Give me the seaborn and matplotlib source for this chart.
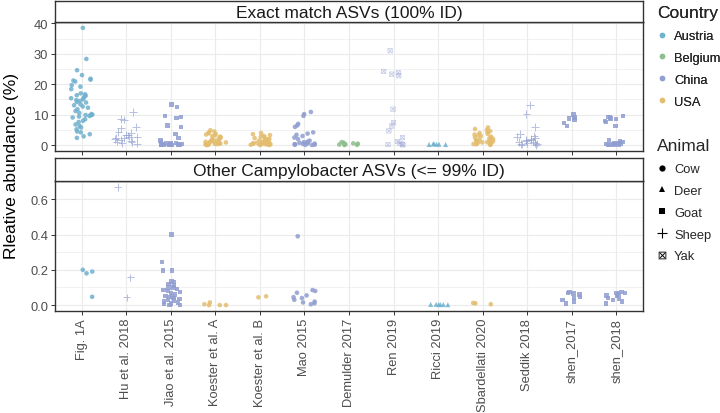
import numpy as np
import pandas as pd
import matplotlib
matplotlib.use("Agg")
import matplotlib.pyplot as plt
import seaborn as sns
from matplotlib.lines import Line2D
from matplotlib.ticker import MultipleLocator, FormatStrFormatter

# ---------------- data ----------------
studies = ["Fig. 1A", "Hu et al. 2018", "Jiao et al. 2015", "Koester et al. A",
           "Koester et al. B", "Mao 2015", "Demulder 2017", "Ren 2019", "Ricci 2019",
           "Sbardellati 2020", "Seddik 2018", "shen_2017", "shen_2018"]
study_country = ["Austria", "China", "China", "USA", "USA", "China", "Belgium",
                 "China", "Austria", "USA", "China", "China", "China"]
study_animal = ["Cow", "Sheep", "Goat", "Cow", "Cow", "Cow", "Cow", "Yak", "Deer",
                "Cow", "Sheep", "Goat", "Goat"]
countries = ["Austria", "Belgium", "China", "USA"]
animals = ["Cow", "Deer", "Goat", "Sheep", "Yak"]
panels = ["Exact match ASVs (100% ID)", "Other Campylobacter ASVs (<= 99% ID)"]

# panel 1: exact match ASVs (relative abundance, %)
fig1a_exact = [38.5, 28.3, 24.6, 23.0, 21.8, 21.5, 21.2, 20.9, 19.7, 19.2, 18.4, 17.0,
               16.7, 16.4, 16.2, 15.6, 15.4, 15.1, 14.8, 14.5, 14.2, 14.0, 13.4, 13.1,
               12.7, 12.3, 11.8, 11.2, 10.6, 10.2, 10.0, 9.9, 9.8, 9.6, 9.4, 9.1, 8.5,
               8.0, 7.6, 6.8, 6.3, 5.8, 5.2, 4.5, 4.2, 3.6, 2.9, 2.4]
hu_exact = [10.8, 8.6, 8.4, 6.0, 5.5, 4.3, 3.9, 3.2, 2.8, 2.5, 2.2, 2.0, 1.8, 1.5,
            1.2, 0.8, 0.5, 2.6, 3.5, 1.0]
jiao_exact = [13.3, 12.6, 9.6, 9.3, 9.0, 6.4, 5.9, 3.7, 2.4, 1.5, 1.0, 0.8, 0.6, 0.5,
              0.4, 0.35, 0.3, 0.25, 0.2, 0.18, 0.15, 0.12, 0.1, 0.08, 0.06, 0.05,
              0.04, 0.03, 0.02, 0.01]
koesterA_exact = [4.9, 4.5, 4.2, 3.9, 3.7, 3.5, 3.2, 3.0, 2.8, 2.6, 2.4, 2.2, 2.0,
                  1.9, 1.7, 1.5, 1.4, 1.2, 1.1, 1.0, 0.9, 0.8, 0.7, 0.6, 0.5, 0.4,
                  0.35, 0.3, 0.25, 0.2, 0.15, 0.1, 0.05]
koesterB_exact = [4.0, 3.6, 3.3, 3.0, 2.8, 2.6, 2.3, 2.1, 1.9, 1.8, 1.6, 1.4, 1.3,
                  1.1, 1.0, 0.9, 0.8, 0.7, 0.6, 0.5, 0.4, 0.35, 0.3, 0.25, 0.2,
                  0.15, 0.1, 0.05]
mao_exact = [10.9, 10.2, 9.6, 7.0, 6.5, 6.0, 4.2, 3.8, 3.4, 3.0, 2.5, 2.0, 1.5, 1.2,
             1.0, 0.8, 0.6, 0.5, 0.4, 0.3, 0.25, 0.2, 0.15, 0.1, 0.05]
demulder_exact = [1.0, 0.8, 0.6, 0.5, 0.3, 0.2, 0.1, 0.05]
ren_exact = [31.0, 24.2, 23.8, 23.3, 22.8, 11.8, 7.4, 6.3, 4.7, 2.5, 1.2, 0.6, 0.3,
             0.2, 0.1]
ricci_exact = [0.5, 0.4, 0.3, 0.3, 0.2, 0.2]
sbardellati_exact = [5.8, 5.3, 5.0, 4.6, 4.3, 4.0, 3.7, 3.5, 3.2, 3.0, 2.8, 2.6, 2.4,
                     2.2, 2.0, 1.8, 1.6, 1.5, 1.3, 1.2, 1.0, 0.9, 0.8, 0.6, 0.5, 0.4,
                     0.3, 0.2, 0.1]
seddik_exact = [13.1, 10.2, 6.0, 3.6, 3.0, 2.6, 2.3, 2.0, 1.8, 1.6, 1.4, 1.2, 1.0,
                0.8, 0.6, 0.5, 0.3, 0.2, 0.1]
shen17_exact = [10.1, 9.1, 8.7, 8.4, 7.2, 6.3]
shen18_exact = [9.6, 9.3, 9.1, 8.8, 8.5, 8.0, 7.6, 6.3, 1.6, 1.2, 1.0, 0.8, 0.6, 0.5,
                0.4, 0.3, 0.2, 0.15, 0.1, 0.05]

# panel 2: other Campylobacter ASVs (relative abundance, %)
fig1a_other = [0.047, 0.20, 0.19, 0.18]
hu_other = [0.67, 0.157, 0.044]
jiao_other = [0.40, 0.245, 0.195, 0.195, 0.135, 0.13, 0.12, 0.11, 0.10, 0.10, 0.09,
              0.085, 0.08, 0.07, 0.06, 0.05, 0.05, 0.04, 0.035, 0.03, 0.025, 0.02,
              0.01, 0.005, 0.0, 0.0, 0.015, 0.045, 0.075]
koesterA_other = [0.0, 0.0, 0.0, 0.005, 0.015]
koesterB_other = [0.044, 0.05]
mao_other = [0.39, 0.085, 0.08, 0.07, 0.055, 0.045, 0.04, 0.03, 0.02, 0.015, 0.01,
             0.005]
demulder_other = []
ren_other = []
ricci_other = [0.003, 0.004, 0.003, 0.004, 0.003, 0.002]
sbardellati_other = [0.005, 0.01, 0.012]
seddik_other = []
shen17_other = [0.075, 0.07, 0.065, 0.06, 0.045, 0.04, 0.03, 0.02, 0.01]
shen18_other = [0.075, 0.07, 0.068, 0.06, 0.055, 0.05, 0.04, 0.035, 0.03, 0.02, 0.01]

exact_values = [fig1a_exact, hu_exact, jiao_exact, koesterA_exact, koesterB_exact,
                mao_exact, demulder_exact, ren_exact, ricci_exact, sbardellati_exact,
                seddik_exact, shen17_exact, shen18_exact]
other_values = [fig1a_other, hu_other, jiao_other, koesterA_other, koesterB_other,
                mao_other, demulder_other, ren_other, ricci_other, sbardellati_other,
                seddik_other, shen17_other, shen18_other]

rows = []
for panel, vals_list in zip(panels, [exact_values, other_values]):
    for s, c, a, vals in zip(studies, study_country, study_animal, vals_list):
        for v in vals:
            rows.append({"Panel": panel, "Study": s, "Country": c, "Animal": a, "Value": v})
df = pd.DataFrame(rows)

# ---------------- style ----------------
palette = {"Austria": "#6FB0CE", "Belgium": "#8CBD8B", "China": "#8F9DD0", "USA": "#E3BD6D"}
markers = {"Cow": "o", "Deer": "^", "Goat": "s", "Sheep": "+", "Yak": r"$\boxtimes$"}
msize = {"Cow": 3.3, "Deer": 3.6, "Goat": 3.2, "Sheep": 5.5, "Yak": 3.6}

sns.set_style("white")
plt.rcParams["font.family"] = ["Liberation Sans", "DejaVu Sans"]

W, H = 720, 414
fig = plt.figure(figsize=(W / 100, H / 100), dpi=100)

def fx(px):
    return px / W

def fy(py):
    return 1 - py / H

x0, x1 = 55, 643
panel_px = [(2, 23, 152), (159, 182, 312)]  # strip top, axes top, axes bottom
grid_c = "#EBEBEB"
border_c = "#333333"

axes = []
for i, (panel, (st, at, ab)) in enumerate(zip(panels, panel_px)):
    ax = fig.add_axes([fx(x0), fy(ab), fx(x1) - fx(x0), fy(at) - fy(ab)])
    d = df[df.Panel == panel]
    np.random.seed(3 + i)
    for animal in animals:
        sub = d[d.Animal == animal]
        if sub.empty:
            continue
        kw = dict(linewidth=0.7) if animal == "Sheep" else dict(linewidth=0)
        alpha = 0.65 if animal in ("Yak", "Sheep") else 0.85
        sns.stripplot(data=sub, x="Study", y="Value", hue="Country", order=studies,
                      hue_order=countries, palette=palette, marker=markers[animal],
                      size=msize[animal], jitter=0.25, ax=ax, legend=False,
                      alpha=alpha, **kw)
    vals = d.Value
    rng = vals.max() - vals.min()
    ax.set_ylim(vals.min() - 0.05 * rng, vals.max() + 0.05 * rng)
    ax.set_xlim(-0.6, len(studies) - 0.4)
    if i == 0:
        ax.yaxis.set_major_locator(MultipleLocator(10))
        ax.yaxis.set_minor_locator(MultipleLocator(5))
        ax.yaxis.set_major_formatter(FormatStrFormatter("%d"))
        ax.set_xticklabels([])
    else:
        ax.yaxis.set_major_locator(MultipleLocator(0.2))
        ax.yaxis.set_minor_locator(MultipleLocator(0.1))
        ax.yaxis.set_major_formatter(FormatStrFormatter("%.1f"))
        ax.set_xticks(range(len(studies)))
        ax.set_xticklabels(studies, rotation=90, ha="center", va="top")
    ax.set_xlabel("")
    ax.set_ylabel("")
    ax.set_axisbelow(True)
    ax.grid(True, which="major", color=grid_c, linewidth=0.8)
    ax.grid(True, which="minor", axis="y", color=grid_c, linewidth=0.45)
    for sp in ax.spines.values():
        sp.set_visible(True)
        sp.set_color(border_c)
        sp.set_linewidth(1.0)
    ax.tick_params(axis="both", which="major", length=3, width=0.7, color=border_c,
                   labelsize=9.3, labelcolor="#4D4D4D", pad=2, left=True, bottom=True)
    ax.tick_params(axis="both", which="minor", length=0)
    axes.append(ax)

    # facet strip
    sax = fig.add_axes([fx(x0), fy(at), fx(x1) - fx(x0), fy(st) - fy(at)])
    sax.set_xticks([])
    sax.set_yticks([])
    sax.set_facecolor("white")
    for sp in sax.spines.values():
        sp.set_color(border_c)
        sp.set_linewidth(1.0)
    sax.text(0.5, 0.45, panel, ha="center", va="center", fontsize=12.5, color="#1A1A1A",
             transform=sax.transAxes)

fig.text(fx(12), fy(166), "Rleative abundance (%)", rotation=90, ha="center",
         va="center", fontsize=12.5, color="black")

# legends
country_handles = [Line2D([], [], marker="o", ls="", color=palette[c], alpha=0.85,
                          markersize=4.0, markeredgewidth=0) for c in countries]
leg1 = fig.legend(country_handles, countries, title="Country", loc="upper left",
                  bbox_to_anchor=(fx(652), fy(1)), frameon=False, fontsize=9.3,
                  title_fontsize=12.5, labelspacing=0.76, handlelength=0.8,
                  handletextpad=0.5, alignment="left", borderaxespad=0)
animal_handles = []
for a in animals:
    if a == "Sheep":
        animal_handles.append(Line2D([], [], marker="+", ls="", color="black",
                                     markersize=7, markeredgewidth=0.8))
    elif a == "Yak":
        animal_handles.append(Line2D([], [], marker=markers[a], ls="", color="black",
                                     markersize=5.5, markeredgewidth=0))
    else:
        animal_handles.append(Line2D([], [], marker=markers[a], ls="", color="black",
                                     markersize=4.5, markeredgewidth=0))
fig.add_artist(leg1)
leg2 = fig.legend(animal_handles, animals, title="Animal", loc="upper left",
                  bbox_to_anchor=(fx(652), fy(134)), frameon=False, fontsize=9.3,
                  title_fontsize=12.5, labelspacing=0.76, handlelength=0.8,
                  handletextpad=0.5, alignment="left", borderaxespad=0)

fig.savefig("out.png", dpi=100)
